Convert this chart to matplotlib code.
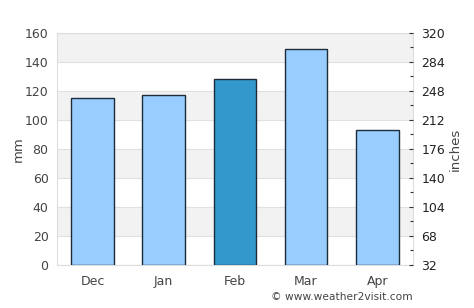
import numpy as np
import matplotlib.pyplot as plt

months = ['Dec', 'Jan', 'Feb', 'Mar', 'Apr']
rain_mm = [115, 117, 128, 149, 93]
highlight = 'Feb'

light = '#99ccff'
dark = '#3399cc'
txt = '#444444'

fig = plt.figure(figsize=(4.74, 3.08), dpi=100)
ax = fig.add_axes([0.120, 0.140, 0.751, 0.753])

ind = np.arange(len(months))
cols = [dark if m == highlight else light for m in months]

# alternating background bands
for lo in range(20, 160, 40):
    ax.axhspan(lo, lo + 20, color='#f2f2f2', zorder=0, lw=0)
for y in range(0, 161, 20):
    ax.axhline(y, color='#e0e0e0', lw=0.8, zorder=1)

ax.bar(ind, rain_mm, 0.6, color=cols, edgecolor='#1c2c3c', lw=1.0, zorder=3)

ax.set_xlim(-0.5, len(months) - 0.5)
ax.set_ylim(0, 160)
ax.set_yticks(range(0, 161, 20))
ax.set_xticks(ind)
ax.set_xticklabels(months)
ax.tick_params(axis='both', length=0, colors=txt, labelsize=9, pad=6)
ax.tick_params(axis='x', pad=7)
ax.set_ylabel('mm', color=txt, fontsize=9.5, labelpad=0)
for s in ax.spines.values():
    s.set_color('#dddddd')
    s.set_linewidth(0.8)

ax2 = ax.twinx()
ax2.set_ylim(32, 320)
ax2.set_yticks(np.arange(32, 321, 36))
ax2.set_yticks(np.arange(50, 320, 36), minor=True)
ax2.tick_params(axis='y', which='major', direction='in', length=3, width=0.8,
                colors='#333333', labelsize=9, pad=6, labelcolor='#222222')
ax2.tick_params(axis='y', which='minor', direction='in', length=2, width=0.8,
                color='#333333')
ax2.set_ylabel('inches', color=txt, fontsize=9.5, labelpad=3)
for s in ax2.spines.values():
    s.set_visible(False)

fig.text(413 / 474, 1 - 297 / 308, '\u00a9 www.weather2visit.com',
         ha='right', va='center', fontsize=7.7, color=txt)

fig.savefig('out.png', dpi=100)
